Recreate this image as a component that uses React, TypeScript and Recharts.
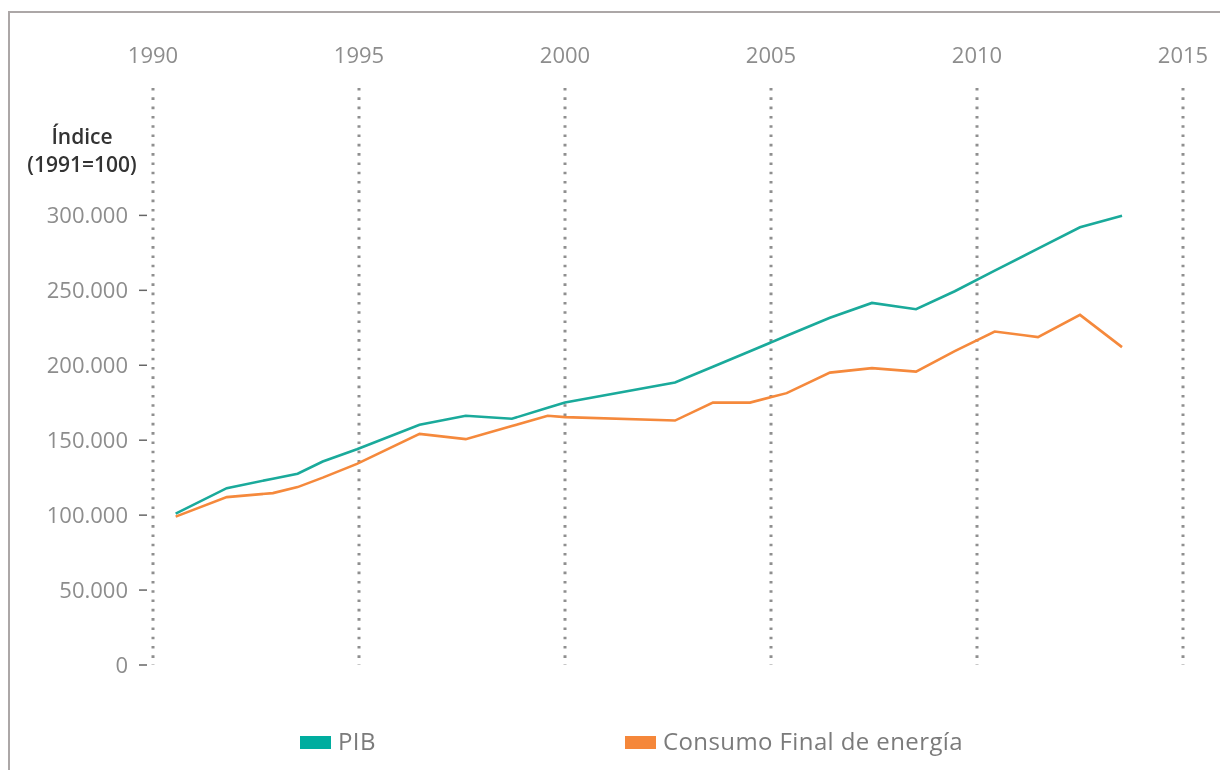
import React from 'react';
import { LineChart, Line, XAxis, YAxis, CartesianGrid } from 'recharts';

// x positions of the points, in years, as placed on the original chart
const years = [
  1990.55, 1991.79, 1992.91, 1993.51, 1994.12, 1994.95, 1996.47, 1997.59, 1998.71, 1999.58,
  2000.0, 2002.67, 2003.59, 2004.49, 2005.38, 2006.43, 2007.45, 2008.52, 2009.46, 2010.43,
  2011.48, 2012.5, 2013.52,
];

const pib = [
  101, 118, 124.3, 127.6, 135.8, 144, 160.3, 166.3, 164.3, 171.6,
  175.1, 188.5, 199, 209.3, 219.7, 231.7, 241.6, 237.4, 249.4, 263.1,
  277.8, 292.1, 299.7,
];

const consumo = [
  99, 112, 114.7, 118.7, 125, 134.2, 154.2, 150.7, 159.4, 166.3,
  165.4, 163.1, 175.1, 175.1, 181.4, 195.1, 198.1, 195.8, 209.4, 222.5,
  218.8, 233.6, 212.1,
];

const yearTicks = [1990, 1995, 2000, 2005, 2010, 2015];
const valueTicks = [0, 50, 100, 150, 200, 250, 300];

const TEAL = '#1aaa9b';
const ORANGE = '#f5893c';
const FONT = '"Open Sans", sans-serif';

const chartData = years.map((year, i) => ({ year, pib: pib[i], consumo: consumo[i] }));

const formatValue = (v: number) => (v === 0 ? '0' : v.toFixed(3));

const YearTick = ({ x, y, payload }: any) => (
  <text x={x} y={y} dy={-25} textAnchor="middle" fill="#8d8d8d" fontSize={22} fontFamily={FONT}>
    {payload.value}
  </text>
);

const ValueTick = ({ x, y, payload }: any) => (
  <g>
    <line x1={x - 14} x2={x - 6} y1={y} y2={y} stroke="#666" strokeWidth={1.5} />
    <text x={x - 25} y={y} dy={8} textAnchor="end" fill="#8d8d8d" fontSize={22} fontFamily={FONT}>
      {formatValue(payload.value)}
    </text>
  </g>
);

const legendItems = [
  { name: 'PIB', color: '#00ad9f', left: 292 },
  { name: 'Consumo Final de energía', color: '#f5873a', left: 617 },
];

export default function App() {
  return (
    <div style={{ position: 'relative', width: 1204, height: 754, overflow: 'hidden', background: '#fff' }}>
      {/* frame of the original figure */}
      <div
        style={{
          position: 'fixed',
          left: 8,
          top: 11,
          width: 1300,
          height: 900,
          borderTop: '2px solid #aca7a7',
          borderLeft: '2px solid #aca7a7',
        }}
      />
      <LineChart
        width={1204}
        height={754}
        data={chartData}
        margin={{ top: 0, right: 29, bottom: 97, left: 0 }}
        style={{ position: 'absolute', left: 0, top: 0 }}
      >
        <CartesianGrid horizontal={false} stroke="#8f8f8f" strokeWidth={3} strokeDasharray="2.6 6.7" />
        <XAxis
          dataKey="year"
          type="number"
          orientation="top"
          domain={[1990, 2015]}
          ticks={yearTicks}
          axisLine={false}
          tickLine={false}
          tickSize={0}
          tickMargin={0}
          height={80}
          tick={<YearTick />}
        />
        <YAxis
          type="number"
          domain={[0, 385]}
          ticks={valueTicks}
          axisLine={false}
          tickLine={false}
          tickSize={0}
          tickMargin={0}
          width={145}
          tick={<ValueTick />}
        />
        <Line dataKey="pib" stroke={TEAL} strokeWidth={2.6} dot={false} isAnimationActive={false} />
        <Line dataKey="consumo" stroke={ORANGE} strokeWidth={2.6} dot={false} isAnimationActive={false} />
      </LineChart>
      <div
        style={{
          position: 'absolute',
          left: 14,
          top: 114,
          width: 120,
          textAlign: 'center',
          fontFamily: FONT,
          fontWeight: 600,
          fontSize: 21,
          lineHeight: '28px',
          color: '#333',
        }}
      >
        Índice
        <br />
        (1991=100)
      </div>
      {legendItems.map((item) => (
        <div
          key={item.name}
          style={{
            position: 'absolute',
            left: item.left,
            top: 716,
            display: 'flex',
            alignItems: 'center',
            fontFamily: FONT,
            fontSize: 24,
            letterSpacing: 0.4,
            color: '#7b7b7b',
          }}
        >
          <div style={{ width: 31, height: 13, background: item.color, marginRight: 7, marginTop: 3 }} />
          <span>{item.name}</span>
        </div>
      ))}
    </div>
  );
}
